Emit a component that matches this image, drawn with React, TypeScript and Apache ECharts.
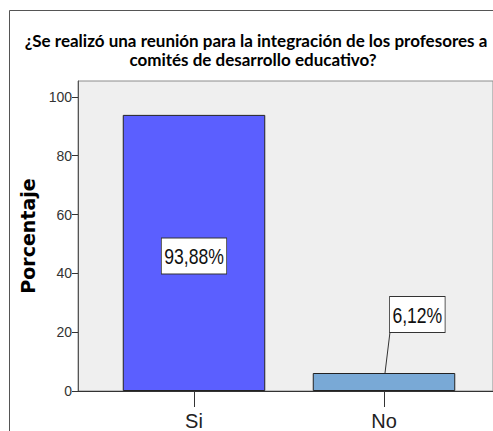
import React, { useEffect, useRef } from "react";
import * as echarts from "echarts";

const titleLines = [
  "¿Se realizó una reunión para la integración de los profesores a",
  "comités de desarrollo educativo?",
];
const yAxisName = "Porcentaje";
const categories = ["Si", "No"];
const values = [93.88, 6.12];
const valueLabels = ["93,88%", "6,12%"];
const barColors = ["#5b5fff", "#79a9d6"];
const yTicks = { min: 0, max: 105.4, interval: 20 };

const SANS = "'Liberation Sans', Arial, sans-serif";

export default function App() {
  const ref = useRef<HTMLDivElement>(null);
  useEffect(() => {
    if (!ref.current) return;
    document.body.style.margin = "0";
    document.body.style.overflow = "hidden";
    const chart = echarts.init(ref.current, undefined, { renderer: "svg" });
    const option: any = {
      animation: false,
      backgroundColor: "#ffffff",
      graphic: [
        {
          type: "polyline",
          z: 100,
          silent: true,
          shape: { points: [[9.5, 431], [9.5, 10.5], [493, 10.5]] },
          style: { fill: "none", stroke: "#555", lineWidth: 1 },
        },
        {
          type: "text",
          x: 256,
          y: 40,
          style: {
            text: titleLines[0],
            align: "center",
            verticalAlign: "middle",
            font: "bold 17px Lato, sans-serif",
            fill: "#000",
          },
        },
        {
          type: "text",
          x: 253,
          y: 59,
          style: {
            text: titleLines[1],
            align: "center",
            verticalAlign: "middle",
            font: "bold 17px Lato, sans-serif",
            fill: "#000",
          },
        },
      ],
      grid: [
        {
          left: 78,
          top: 81,
          width: 420,
          bottom: 40,
          show: true,
          backgroundColor: "#efefef",
          borderColor: "#8c8c8c",
          borderWidth: 1,
        },
        { left: 99, top: 81, width: 380, bottom: 40 },
      ],
      xAxis: [
        {
          type: "value",
          gridIndex: 0,
          min: 0,
          max: 1,
          axisLine: { show: true, lineStyle: { color: "#333", width: 1 } },
          axisTick: { show: false },
          axisLabel: { show: false },
          splitLine: { show: false },
        },
        {
          type: "category",
          gridIndex: 1,
          data: categories,
          axisLine: { show: false },
          axisTick: { show: true, length: 16, alignWithLabel: true, lineStyle: { color: "#333" } },
          axisLabel: { margin: 20, fontFamily: SANS, fontSize: 20, color: "#222" },
        },
      ],
      yAxis: [
        {
          type: "value",
          gridIndex: 0,
          min: yTicks.min,
          max: yTicks.max,
          interval: yTicks.interval,
          name: yAxisName,
          nameLocation: "middle",
          nameRotate: 90,
          nameGap: 35,
          nameTextStyle: {
            fontFamily: "'DejaVu Sans', sans-serif",
            fontWeight: "bold",
            fontSize: 19,
            color: "#000",
          },
          axisLine: { show: true, lineStyle: { color: "#555", width: 1 } },
          axisTick: { show: true, length: 6, lineStyle: { color: "#333" } },
          axisLabel: {
            showMaxLabel: false,
            margin: 6,
            fontFamily: SANS,
            fontSize: 14,
            color: "#333",
          },
          splitLine: { show: false },
        },
        {
          type: "value",
          gridIndex: 1,
          min: yTicks.min,
          max: yTicks.max,
          show: false,
          splitLine: { show: false },
        },
      ],
      series: [
        {
          type: "bar",
          xAxisIndex: 1,
          yAxisIndex: 1,
          barWidth: "75%",
          data: values.map((v, i) => ({
            value: v,
            itemStyle: { color: barColors[i], borderColor: "#222", borderWidth: 1 },
          })),
        },
        {
          type: "custom",
          xAxisIndex: 1,
          yAxisIndex: 1,
          z: 10,
          data: values.map((v, i) => [i, v]),
          renderItem: (params: any, api: any) => {
            const idx = api.value(0);
            const v = api.value(1);
            const top = api.coord([idx, v]);
            const base = api.coord([idx, 0]);
            const textStyle = {
              text: valueLabels[params.dataIndex],
              font: `22px ${SANS}`,
              fill: "#111",
              backgroundColor: "#fff",
              borderColor: "#333",
              borderWidth: 1,
              padding: [7, 3, 6, 3],
            };
            if (params.dataIndex === 0) {
              return {
                type: "text",
                x: top[0],
                y: (top[1] + base[1]) / 2 + 3,
                scaleX: 0.8,
                style: { ...textStyle, align: "center", verticalAlign: "middle" },
              };
            }
            const lx = top[0] + 6;
            const ly = top[1] - 41;
            return {
              type: "group",
              children: [
                {
                  type: "line",
                  shape: { x1: top[0] + 1, y1: top[1], x2: lx, y2: ly },
                  style: { stroke: "#333", lineWidth: 1 },
                },
                {
                  type: "text",
                  x: lx,
                  y: ly,
                  scaleX: 0.8,
                  style: { ...textStyle, align: "left", verticalAlign: "bottom" },
                },
              ],
            };
          },
        },
      ],
    };
    chart.setOption(option);
    return () => chart.dispose();
  }, []);
  return (
    <div
      ref={ref}
      style={{ position: "absolute", left: 0, top: 0, width: 493, height: 431, overflow: "hidden" }}
    />
  );
}
